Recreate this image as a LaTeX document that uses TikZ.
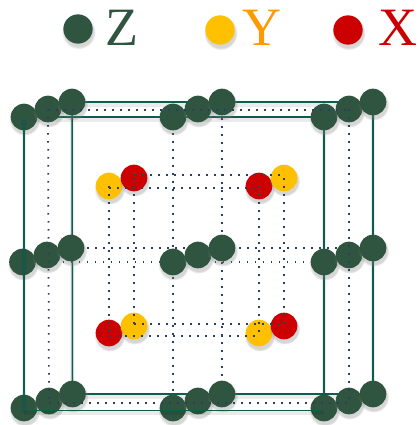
\documentclass[tikz,border=0pt]{standalone}
\usepackage{fontspec}
\setmainfont{Liberation Serif}
\usetikzlibrary{shadows}
\pgfdeclarelayer{back}
\pgfdeclarelayer{front}
\pgfsetlayers{back,main,front}
\definecolor{zgreen}{HTML}{2F5540}
\definecolor{ygold}{HTML}{FFC000}
\definecolor{yorange}{HTML}{FF9900}
\definecolor{xred}{HTML}{CC0000}
\definecolor{bondgreen}{HTML}{0B5F50}
\definecolor{dotblue}{HTML}{2A3F62}

\begin{document}
\begin{tikzpicture}[
  x=0.75pt, y=-0.75pt,
  every node/.style={inner sep=1pt},
  % atoms: all one size, the key dots a little larger
  atom/.style={circle, minimum size=20pt, inner sep=0pt,
    circular drop shadow={shadow xshift=0.4pt, shadow yshift=-2pt, opacity=0.32, shadow scale=1.16}},
  zatom/.style={atom, fill=zgreen},
  yatom/.style={atom, fill=ygold},
  xatom/.style={atom, fill=xred},
  keydot/.style={minimum size=22pt},
  keytext/.style={anchor=base west, inner sep=0pt, font=\fontsize{40.5}{40.5}\selectfont},
  % two kinds of line: solid frame, dotted guide
  bond/.style={draw=bondgreen, line width=1.15pt,
    preaction={draw=black, draw opacity=0.08, line width=3pt, transform canvas={yshift=-2pt}}},
  guide/.style={draw=dotblue, line width=1.3pt, dash pattern=on 1.3pt off 4.7pt}]

  \useasboundingbox (0,0) rectangle (418,425);

  % key
  \node[zatom, keydot] (zdot) at (78,29) {};
  \node[yatom, keydot] (ydot) at (220,30) {};
  \node[xatom, keydot] (xdot) at (348,30) {};
  \node[keytext, text=zgreen]  (zname) at (105,45) {Z};
  \node[keytext, text=yorange] (yname) at (242,45) {Y};
  \node[keytext, text=xred]    (xname) at (378,45) {X};

  % front plane
  \node[zatom] (ftl) at (24,117) {};
  \node[zatom] (ftc) at (173,117) {};
  \node[zatom] (ftr) at (324,117) {};
  \node[zatom] (fcl) at (22.5,262) {};
  \node[zatom] (fcc) at (173,262) {};
  \node[zatom] (fcr) at (324,262) {};
  \node[zatom] (fbl) at (24,408) {};
  \node[zatom] (fbc) at (173,408) {};
  \node[zatom] (fbr) at (324,408) {};
  \coordinate (cnl) at (24,410.5);
  \coordinate (cnr) at (324,410.5);

  % middle plane
  \node[zatom] (mtl) at (48,109) {};
  \node[zatom] (mtc) at (198,109) {};
  \node[zatom] (mtr) at (349,109) {};
  \node[zatom] (mcl) at (47,255) {};
  \node[zatom] (mcc) at (198,255) {};
  \node[zatom] (mcr) at (349,255) {};
  \node[zatom] (mbl) at (49,401) {};
  \node[zatom] (mbc) at (198,401) {};
  \node[zatom] (mbr) at (349,401) {};

  % back plane
  \node[zatom] (btl) at (72,102) {};
  \node[zatom] (btc) at (222,102) {};
  \node[zatom] (btr) at (373,102) {};
  \node[zatom] (bcl) at (71,248) {};
  \node[zatom] (bcc) at (222,248) {};
  \node[zatom] (bcr) at (373,248) {};
  \node[zatom] (bbl) at (72.5,394) {};
  \node[zatom] (bbc) at (222,394) {};
  \node[zatom] (bbr) at (373,394) {};

  % inner atoms
  \node[yatom] (yul) at (109,186) {};
  \node[xatom] (xul) at (134,178) {};
  \node[xatom] (xur) at (259,186) {};
  \node[yatom] (yur) at (284,178) {};
  \node[xatom] (xdl) at (109,333) {};
  \node[yatom] (ydl) at (134,326) {};
  \node[yatom] (ydr) at (259,333) {};
  \node[xatom] (xdr) at (284,326) {};

  % lines behind the atoms
  \begin{pgfonlayer}{back}
    \draw[bond] (btl.center) -- (btr.center);
    \draw[bond] (btr.center) -- (bbr.center);
    \draw[bond] (bbr.center) -- (bbl.center);
    \draw[bond] (bbl.center) -- (btl.center);
    \draw[bond] (ftl.center) -- (ftr.center);
    \draw[bond] (ftr.center) -- (fbr.center);
    \draw[guide] (ftc.center) -- (fbc.center);
    \draw[guide] (btc.center) -- (bbc.center);
    \draw[guide] (bcl.center) -- (bcr.center);
    \draw[guide] (fcl.center) -- (fcr.center);
  \end{pgfonlayer}

  % lines over the atoms
  \begin{pgfonlayer}{front}
    \draw[bond] (ftl.center) -- (cnl);
    \draw[bond] (cnl) -- (cnr);
    \draw[guide] ([yshift=-0.75pt]mtl.center) -- ([yshift=-0.75pt]mtr.center);
    \draw[guide] ([yshift=-1.5pt]mbl.center) -- ([yshift=-1.5pt]mbr.center);
    \draw[guide] (mtl.center) -- (mbl.center);
    \draw[guide] (mtr.center) -- (mbr.center);
    \draw[guide] ([yshift=2.25pt]xul.center) -- ([yshift=2.25pt]yur.center);
    \draw[guide] ([yshift=-1.5pt]yul.center) -- ([yshift=-1.5pt]xur.center);
    \draw[guide] ([yshift=1.5pt]ydl.center) -- ([yshift=1.5pt]xdr.center);
    \draw[guide] ([yshift=-2.25pt]xdl.center) -- ([yshift=-2.25pt]ydr.center);
    \draw[guide] (yul.center) -- (xdl.center);
    \draw[guide] (xul.center) -- (ydl.center);
    \draw[guide] (xur.center) -- (ydr.center);
    \draw[guide] (yur.center) -- (xdr.center);
  \end{pgfonlayer}
\end{tikzpicture}
\end{document}
